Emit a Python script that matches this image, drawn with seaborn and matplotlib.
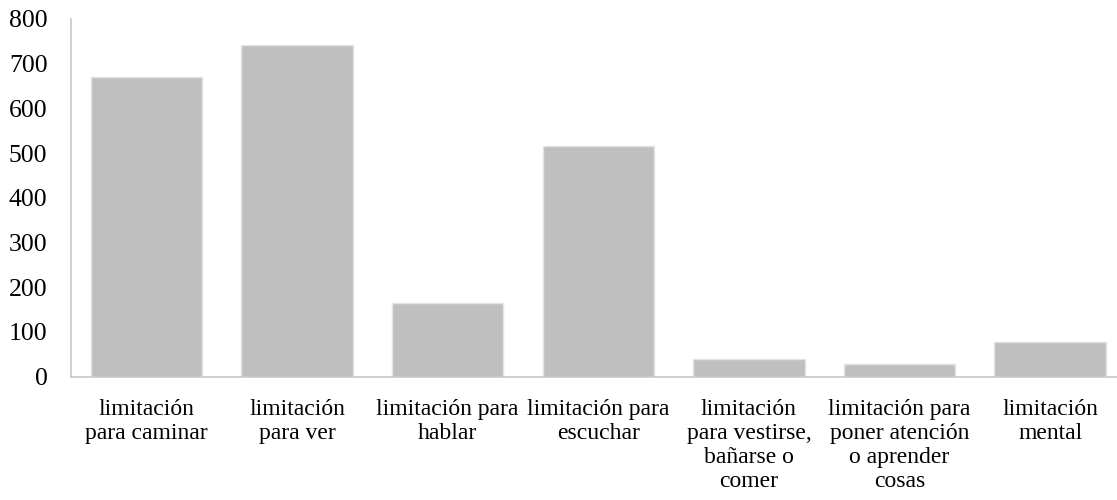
import numpy as np
import pandas as pd
import matplotlib
matplotlib.use("Agg")
import matplotlib.pyplot as plt
import seaborn as sns

# datos del gráfico
categorias = [
    "limitación para caminar",
    "limitación para ver",
    "limitación para hablar",
    "limitación para escuchar",
    "limitación para vestirse, bañarse o comer",
    "limitación para poner atención o aprender cosas",
    "limitación mental",
]
etiquetas = [
    "limitación\npara caminar",
    "limitación\npara ver",
    "limitación para\nhablar",
    "limitación para\nescuchar",
    "limitación\npara vestirse,\nbañarse o\ncomer",
    "limitación para\nponer atención\no aprender\ncosas",
    "limitación\nmental",
]
valores = [670, 741, 165, 517, 39, 29, 77]
yticks = [0, 100, 200, 300, 400, 500, 600, 700, 800]

df = pd.DataFrame({"categoria": categorias, "valor": valores})

sns.set_style("white")
plt.rcParams["font.family"] = ["Liberation Serif", "DejaVu Serif"]

fig = plt.figure(figsize=(11.17, 5), dpi=100)
ax = fig.add_axes([0.0636, 0.2466, 0.944, 0.7154])

sns.barplot(data=df, x="categoria", y="valor", color="#BFBFBF", saturation=1,
            width=0.74, edgecolor="#E3E3E3", linewidth=1, ax=ax)

ax.set_xlim(-0.5, len(categorias) - 0.5)
ax.set_ylim(0, 800)
ax.set_yticks(yticks)
ax.set_yticklabels([str(v) for v in yticks], fontsize=18.5, color="black")

ax.set_xticks(range(len(categorias)))
ax.set_xticklabels(etiquetas, fontsize=17, color="black", linespacing=1.18, va="top")
ax.tick_params(axis="x", which="major", length=0, pad=16)
ax.set_xticks(np.arange(-0.5, len(categorias), 1.0), minor=True)
ax.tick_params(axis="x", which="minor", length=5, color="#C8C8C8", width=1, direction="out")
ax.tick_params(axis="y", length=7, color="#C8C8C8", width=1, direction="out", pad=10)

ax.set_xlabel("")
ax.set_ylabel("")
for side in ["top", "right"]:
    ax.spines[side].set_visible(False)
for side in ["left", "bottom"]:
    ax.spines[side].set_color("#C8C8C8")
    ax.spines[side].set_linewidth(1.2)

fig.savefig("out.png", dpi=100)
